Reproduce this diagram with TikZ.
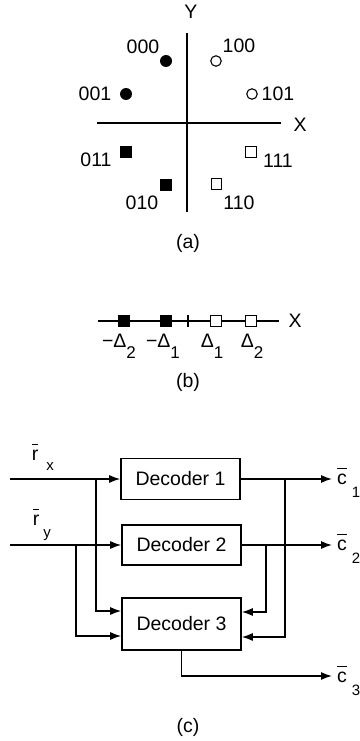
\documentclass[tikz,border=0pt]{standalone}
\usepackage{fontspec}
\setmainfont{Liberation Sans}
\usetikzlibrary{arrows.meta}
\newcommand\barred[1]{\ensuremath{\overline{\mbox{#1}\vphantom{T}}}}
\begin{document}
\begin{tikzpicture}[x=1pt,y=-1pt,
  every node/.style={font=\fontsize{19.5}{22}\selectfont, inner sep=0pt},
  subs/.style={font=\fontsize{15}{17}\selectfont},
  axis/.style={line width=1.6pt},
  fdot/.style={circle, fill=black, minimum size=12pt},
  odot/.style={circle, draw=black, fill=white, line width=1.1pt, minimum size=10.5pt},
  fsq/.style={rectangle, fill=black, minimum size=12pt},
  osq/.style={rectangle, draw=black, fill=white, line width=1.1pt, minimum size=10.5pt},
  dec/.style={rectangle, draw, line width=1.6pt, minimum width=119pt},
  conn/.style={line width=1.4pt},
  arr/.style={conn, -{Latex[length=11pt,width=8pt]}}
]
\useasboundingbox (0,0) rectangle (359,741);

% ---------------- (a) ----------------
\coordinate (ytop) at (187,33);
\coordinate (ybot) at (187,212);
\coordinate (xl) at (97,123);
\coordinate (xr) at (281,123);
\draw[axis] (ytop) -- (ybot);
\draw[axis] (xl) -- (xr);
\node (Ylab) at (191,12) {Y};
\node (Xlab) at (300,125) {X};

\node[fdot] (p000) at (166,61) {};
\node[odot] (p100) at (216,61) {};
\node[fdot] (p001) at (126,94) {};
\node[odot] (p101) at (252,94) {};
\node[fsq] (p011) at (126,152) {};
\node[osq] (p111) at (251,152) {};
\node[fsq] (p010) at (166,185) {};
\node[osq] (p110) at (216.5,184) {};

\node (l000) at (143,47) {000};
\node (l100) at (239,46) {100};
\node (l001) at (95,94) {001};
\node (l101) at (278,94) {101};
\node (l011) at (96,160) {011};
\node (l111) at (278,161) {111};
\node (l010) at (142,203) {010};
\node (l110) at (239,203) {110};
\node (capa) at (188,243) {(a)};

% ---------------- (b) ----------------
\coordinate (bl) at (98,321);
\coordinate (br) at (279,321);
\coordinate (t1) at (188,315);
\coordinate (t2) at (188,327);
\draw[line width=1.2pt] (bl) -- (br);
\draw[line width=1.2pt] (t1) -- (t2);
\node[fsq] (q1) at (124,321) {};
\node[fsq] (q2) at (166,321) {};
\node[osq] (q3) at (216,321) {};
\node[osq] (q4) at (251,321) {};
\node (Xb) at (295,321) {X};
\node[anchor=base] (d1l) at (119,347) {−Δ\raisebox{-1.1ex}{\fontsize{17}{19}\selectfont 2}};
\node[anchor=base] (d2l) at (163,347) {−Δ\raisebox{-1.1ex}{\fontsize{17}{19}\selectfont 1}};
\node[anchor=base] (d3l) at (212,347) {Δ\raisebox{-1.1ex}{\fontsize{17}{19}\selectfont 1}};
\node[anchor=base] (d4l) at (252,347) {Δ\raisebox{-1.1ex}{\fontsize{17}{19}\selectfont 2}};
\node (capb) at (188,382) {(b)};

% ---------------- (c) ----------------
\node[dec, minimum height=41pt] (d1) at (180.5,479) {Decoder 1};
\node[dec, minimum height=40pt] (d2) at (181.5,545) {Decoder 2};
\node[dec, minimum height=52pt] (d3) at (181.5,624) {Decoder 3};

\coordinate (rxin) at (10,479);
\coordinate (ryin) at (10,545);
\coordinate (bx1) at (96,479);
\coordinate (by1) at (76,545);
\coordinate (c1end) at (332,479);
\coordinate (c2end) at (332,545);
\coordinate (c3end) at (332,676);
\coordinate (bc1) at (285,479);
\coordinate (bc2) at (266,545);

\draw[arr] (rxin) -- (d1);
\draw[arr] (ryin) -- (d2);
\draw[arr] (bx1) |- ([yshift=13pt]d3.west);
\draw[arr] (by1) |- ([yshift=-12pt]d3.west);
\draw[arr] (d1) -- (c1end);
\draw[arr] (d2) -- (c2end);
\draw[arr] (bc1) |- ([yshift=-13pt]d3.east);
\draw[arr] (bc2) |- ([yshift=12pt]d3.east);
\draw[arr] (d3.south) |- (c3end);

\node[anchor=base] (rxl) at (35,460) {\barred{r}};
\node[subs, anchor=base] (rxs) at (50,470) {x};
\node[anchor=base] (ryl) at (36,525) {\barred{r}};
\node[subs, anchor=base] (rys) at (47,537) {y};
\node[anchor=base] (c1l) at (342,484) {\barred{c}};
\node[subs, anchor=base] (c1s) at (356,497) {1};
\node[anchor=base] (c2l) at (342,550) {\barred{c}};
\node[subs, anchor=base] (c2s) at (356,563) {2};
\node[anchor=base] (c3l) at (342,682) {\barred{c}};
\node[subs, anchor=base] (c3s) at (356,695) {3};
\node (capc) at (188,727) {(c)};
\end{tikzpicture}
\end{document}
